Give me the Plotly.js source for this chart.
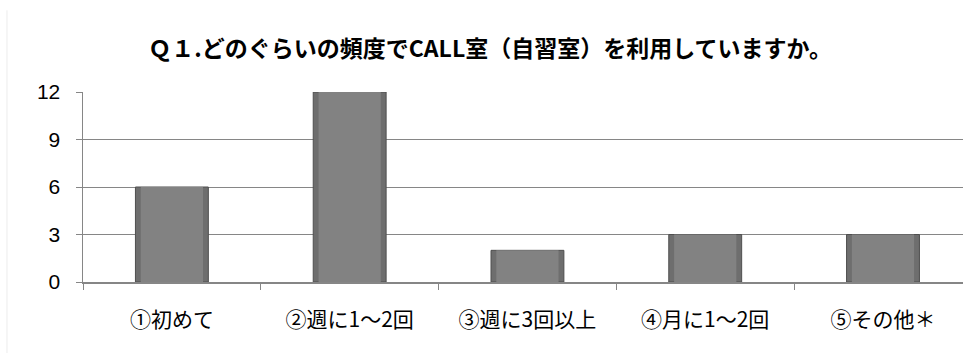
<!DOCTYPE html>
<html>
<head>
<meta charset="utf-8">
<script src="https://cdn.plot.ly/plotly-3.0.1.min.js"></script>
<style>html,body{margin:0;padding:0;background:#fff;}#chart{width:963px;height:353px;}</style>
</head>
<body>
<div id="chart"></div>
<script>
const chartTitle = "Ｑ１.どのぐらいの頻度でCALL室（自習室）を利用していますか。";
const categories = ["①初めて", "②週に1～2回", "③週に3回以上", "④月に1～2回", "⑤その他＊"];
const counts = [6, 12, 2, 3, 3];
const yTicks = [0, 3, 6, 9, 12];

const axisGray = "#868686";
const numFont = "'Liberation Sans', Arial, sans-serif";
const jpFont = "'Noto Sans CJK JP', sans-serif";

const traces = [
  {
    type: "bar",
    x: categories,
    y: counts,
    width: 0.41,
    marker: { color: "#6e6e6e", line: { color: "#4f4f4f", width: 1 } },
    hoverinfo: "x+y"
  },
  {
    type: "bar",
    x: categories,
    y: counts,
    width: 0.35,
    marker: { color: "#828282", line: { width: 0 } },
    hoverinfo: "skip"
  }
];

const layout = {
  width: 963,
  height: 353,
  paper_bgcolor: "#ffffff",
  plot_bgcolor: "#ffffff",
  showlegend: false,
  barmode: "overlay",
  margin: { l: 83, r: 0, t: 92, b: 71 },
  title: {
    text: "<b>" + chartTitle + "</b>",
    font: { family: jpFont, size: 23, color: "#000000" },
    x: 0.509, xref: "container", xanchor: "center",
    y: 0.861, yref: "container", yanchor: "middle"
  },
  xaxis: {
    type: "category",
    range: [-0.5, 4.45],
    showgrid: false,
    showline: true,
    linecolor: axisGray,
    linewidth: 1.5,
    ticks: "outside",
    tickson: "boundaries",
    ticklen: 6,
    tickcolor: axisGray,
    tickfont: { family: jpFont, size: 21, color: "#000000" },
    ticklabelstandoff: 18,
    zeroline: false,
    fixedrange: true
  },
  yaxis: {
    range: [0, 12],
    tickvals: yTicks,
    ticktext: yTicks.map(String),
    showgrid: true,
    gridcolor: axisGray,
    gridwidth: 1,
    showline: true,
    linecolor: axisGray,
    linewidth: 1.5,
    ticks: "outside",
    ticklen: 6,
    tickcolor: axisGray,
    tickfont: { family: numFont, size: 21, color: "#000000" },
    ticklabelstandoff: 11,
    zeroline: false,
    fixedrange: true
  },
  shapes: [
    {
      type: "line", xref: "paper", yref: "paper",
      x0: -0.0864, x1: -0.0864, y0: 1.43, y1: -0.5,
      line: { color: "#ececec", width: 1 }
    }
  ]
};

Plotly.newPlot("chart", traces, layout, { staticPlot: true, displayModeBar: false });
</script>
</body>
</html>
